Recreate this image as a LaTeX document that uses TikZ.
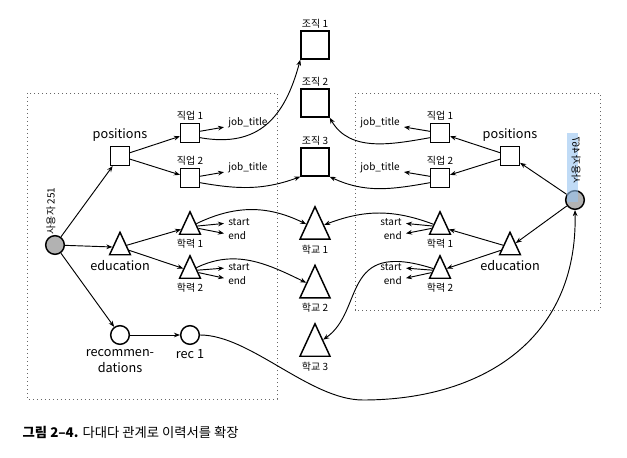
\documentclass[tikz,border=0pt]{standalone}
\usepackage{fontspec}
\setmainfont{Noto Sans CJK KR}
\usepackage{tikz}
\usetikzlibrary{arrows.meta,backgrounds,calc,positioning,shapes.geometric}
\definecolor{hilite}{RGB}{150,195,240}

\begin{document}
\begin{tikzpicture}[x=0.75pt,y=0.75pt,
  box/.style={draw,line width=1.1pt,rectangle,minimum size=14pt,inner sep=0pt},
  bigbox/.style={box,minimum size=21pt},
  tri/.style={draw,line width=1.1pt,regular polygon,regular polygon sides=3,minimum size=18pt,inner sep=0pt,yscale=1.25},
  bigtri/.style={tri,minimum size=26pt},
  user/.style={draw,line width=1.1pt,circle,fill=black!30,minimum size=14pt,inner sep=0pt},
  rec/.style={draw,line width=1.1pt,circle,minimum size=14pt,inner sep=0pt},
  big/.style={font=\fontsize{9.5}{12}\selectfont},
  small/.style={font=\fontsize{7.5}{9}\selectfont},
  lab/.style={small,inner sep=1.5pt},
  leaf/.style={small,inner sep=3pt},
  edge/.style={line width=0.7pt,-{Stealth[length=4.5pt,width=3.5pt]}},
  group/.style={line width=0.7pt,black!60,dash pattern=on 0.8pt off 2.2pt}
]
\useasboundingbox (0,0) rectangle (627,457);

\draw[group] (27,364) rectangle (277,58);
\draw[group] (355,364) rectangle (600,147);

% user 251
\node[user] (u251) at (55,212) {};
\node[lab,rotate=90] (u251lab) at (51,246) {사용자 251};
\node[box,label={[big]above:positions}] (posL) at (120,301) {};
\node[box,label={[lab]above:직업 1}] (jobL1) at (190,324) {};
\node[box,label={[lab]above:직업 2}] (jobL2) at (190,279) {};
\node[leaf,anchor=west] (jtL1) at (224,334) {job\_title};
\node[leaf,anchor=west] (jtL2) at (224,289) {job\_title};
\node[tri] (eduL) at (120,209.75) {};
\node[big,below=0pt of eduL] (eduLlab) {education};
\node[tri] (schL1) at (190,230.25) {};
\node[lab,below=1pt of schL1] (schL1lab) {학력 1};
\node[tri] (schL2) at (190,186.25) {};
\node[lab,below=1pt of schL2] (schL2lab) {학력 2};
\node[leaf,anchor=west] (stL1) at (224,235) {start};
\node[leaf,anchor=west] (enL1) at (224,221) {end};
\node[leaf,anchor=west] (stL2) at (224,190) {start};
\node[leaf,anchor=west] (enL2) at (224,176) {end};
\node[rec,label={[big,align=center]below:recommen-\\dations}] (recs) at (120,122) {};
\node[rec,label={[big]below:rec 1}] (rec1) at (190,122) {};

% shared nodes
\node[bigbox,label={[lab]above:조직 1}] (org1) at (315,412) {};
\node[bigbox,label={[lab]above:조직 2}] (org2) at (315,354) {};
\node[bigbox,label={[lab]above:조직 3}] (org3) at (315,295) {};
\node[bigtri] (uni1) at (315,228.6) {};
\node[lab,below=2pt of uni1] (uni1lab) {학교 1};
\node[bigtri] (uni2) at (315,170) {};
\node[lab,below=2pt of uni2] (uni2lab) {학교 2};
\node[bigtri] (uni3) at (315,111.6) {};
\node[lab,below=2pt of uni3] (uni3lab) {학교 3};

% user 467
\node[user] (u467) at (575,257) {};
\fill[hilite,opacity=0.6] (567,324) rectangle (578,255);
\node[lab,cm={0,1,1,0,(0,0)}] (u467lab) at (576,297) {사용자 467};
\node[box,label={[big]above:positions}] (posR) at (510,301) {};
\node[box,label={[lab]above:직업 1}] (jobR1) at (440,324) {};
\node[box,label={[lab]above:직업 2}] (jobR2) at (440,279) {};
\node[leaf,anchor=east] (jtR1) at (404,334) {job\_title};
\node[leaf,anchor=east] (jtR2) at (404,289) {job\_title};
\node[tri] (eduR) at (510,209.75) {};
\node[big,below=0pt of eduR] (eduRlab) {education};
\node[tri] (schR1) at (440,230.25) {};
\node[lab,below=1pt of schR1] (schR1lab) {학력 1};
\node[tri] (schR2) at (440,186.25) {};
\node[lab,below=1pt of schR2] (schR2lab) {학력 2};
\node[leaf,anchor=east] (stR1) at (406,235) {start};
\node[leaf,anchor=east] (enR1) at (406,221) {end};
\node[leaf,anchor=east] (stR2) at (406,190) {start};
\node[leaf,anchor=east] (enR2) at (406,176) {end};
\coordinate (recdip) at (363,57);

\node[anchor=west,font=\fontsize{10}{12}\selectfont] (caption) at (18,25) {\textbf{그림 2–4.} 다대다 관계로 이력서를 확장};

% left edges
\draw[edge] (u251) -- (posL);
\draw[edge] (u251) -- (eduL);
\draw[edge] (u251) -- (recs);
\draw[edge] (posL) -- (jobL1);
\draw[edge] (posL) -- (jobL2);
\draw[edge] (jobL1) -- (jtL1);
\draw[edge] (jobL2) -- (jtL2);
\draw[edge] (eduL) -- (schL1);
\draw[edge] (eduL) -- (schL2);
\draw[edge] (schL1) -- (stL1);
\draw[edge] (schL1) -- (enL1);
\draw[edge] (schL2) -- (stL2);
\draw[edge] (schL2) -- (enL2);
\draw[edge] (recs) -- (rec1);
\draw[edge] (jobL1.-25) to[out=-10,in=-105,looseness=1.2] (org1.south west);
\draw[edge] (jobL2.-25) to[out=-10,in=-160] (org3.south west);
\draw[edge] (schL1) to[out=25,in=155] (uni1);
\draw[edge] (schL2) to[out=25,in=155] (uni2);
\draw[edge] (rec1.east) .. controls +(50,0) and +(-53,0) .. (recdip)
  .. controls +(117,0) and +(3,-131) .. (u467.south);

% right edges
\draw[edge] (u467) -- (posR);
\draw[edge] (u467) -- (eduR);
\draw[edge] (posR) -- (jobR1);
\draw[edge] (posR) -- (jobR2);
\draw[edge] (jobR1) -- (jtR1);
\draw[edge] (jobR2) -- (jtR2);
\draw[edge] (eduR) -- (schR1);
\draw[edge] (eduR) -- (schR2);
\draw[edge] (schR1) -- (stR1);
\draw[edge] (schR1) -- (enR1);
\draw[edge] (schR2) -- (stR2);
\draw[edge] (schR2) -- (enR2);
\draw[edge] (jobR1.-155) to[out=190,in=-60] (org2.south east);
\draw[edge] (jobR2.-155) to[out=190,in=-25] (org3.south east);
\draw[edge] (schR1) to[out=160,in=20] (uni1);
\draw[edge] (schR2) .. controls +(-100,32) and +(50,35) .. (uni3);
\end{tikzpicture}
\end{document}
